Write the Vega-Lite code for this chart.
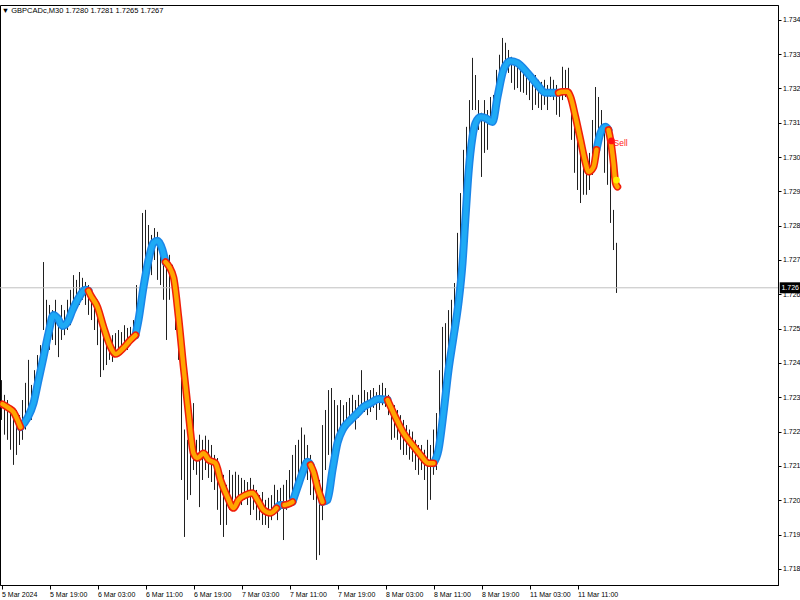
{
  "$schema": "https://vega.github.io/schema/vega-lite/v6.json",
  "width": 778,
  "height": 580,
  "autosize": {"type": "none"},
  "padding": {"left": 0, "top": 5, "right": 22, "bottom": 15},
  "background": "#ffffff",
  "title": {"text": "▼ GBPCADc,M30  1.7280 1.7281 1.7265 1.7267", "anchor": "start", "orient": "top", "offset": -9, "font": "Liberation Sans", "fontSize": 7.5, "fontWeight": "normal", "color": "#000000", "dx": 3},
  "config": {
    "view": {"stroke": "#000000", "strokeWidth": 1},
    "axis": {"labelFont": "Liberation Sans", "labelFontSize": 7, "labelColor": "#000000", "tickColor": "#000000", "domainColor": "#000000", "grid": false, "labelOverlap": false, "labelFlush": false, "labelBound": false},
    "axisY": {"tickCount": 17}
  },
  "datasets": {
    "bars": [
      {"i":0,"h":1.72350,"l":1.72234},{"i":1,"h":1.72307,"l":1.72191},{"i":2,"h":1.72292,"l":1.72176},{"i":3,"h":1.72277,"l":1.72147},
      {"i":4,"h":1.72248,"l":1.72103},{"i":5,"h":1.72263,"l":1.72132},{"i":6,"h":1.72248,"l":1.72161},{"i":7,"h":1.72292,"l":1.72176},
      {"i":8,"h":1.72342,"l":1.72206},{"i":9,"h":1.72409,"l":1.72263},{"i":10,"h":1.72336,"l":1.72234},{"i":11,"h":1.72379,"l":1.72277},
      {"i":12,"h":1.72423,"l":1.72307},{"i":13,"h":1.72452,"l":1.72336},{"i":14,"h":1.72694,"l":1.72496},{"i":15,"h":1.72584,"l":1.72452},
      {"i":16,"h":1.72569,"l":1.72438},{"i":17,"h":1.72554,"l":1.72467},{"i":18,"h":1.72584,"l":1.72452},{"i":19,"h":1.72540,"l":1.72417},
      {"i":20,"h":1.72569,"l":1.72467},{"i":21,"h":1.72554,"l":1.72481},{"i":22,"h":1.72584,"l":1.72496},{"i":23,"h":1.72613,"l":1.72510},
      {"i":24,"h":1.72656,"l":1.72540},{"i":25,"h":1.72642,"l":1.72554},{"i":26,"h":1.72665,"l":1.72569},{"i":27,"h":1.72648,"l":1.72584},
      {"i":28,"h":1.72636,"l":1.72569},{"i":29,"h":1.72627,"l":1.72540},{"i":30,"h":1.72613,"l":1.72525},{"i":31,"h":1.72598,"l":1.72496},
      {"i":32,"h":1.72584,"l":1.72452},{"i":33,"h":1.72540,"l":1.72359},{"i":34,"h":1.72496,"l":1.72379},{"i":35,"h":1.72481,"l":1.72394},
      {"i":36,"h":1.72467,"l":1.72409},{"i":37,"h":1.72481,"l":1.72403},{"i":38,"h":1.72487,"l":1.72423},{"i":39,"h":1.72496,"l":1.72432},
      {"i":40,"h":1.72490,"l":1.72438},{"i":41,"h":1.72510,"l":1.72452},{"i":42,"h":1.72502,"l":1.72438},{"i":43,"h":1.72505,"l":1.72452},
      {"i":44,"h":1.72525,"l":1.72481},{"i":45,"h":1.72627,"l":1.72496},{"i":46,"h":1.72613,"l":1.72525},{"i":47,"h":1.72837,"l":1.72584},
      {"i":48,"h":1.72846,"l":1.72633},{"i":49,"h":1.72802,"l":1.72686},{"i":50,"h":1.72773,"l":1.72656},{"i":51,"h":1.72793,"l":1.72700},
      {"i":52,"h":1.72782,"l":1.72642},{"i":53,"h":1.72744,"l":1.72627},{"i":54,"h":1.72729,"l":1.72584},{"i":55,"h":1.72706,"l":1.72467},
      {"i":56,"h":1.72715,"l":1.72584},{"i":57,"h":1.72686,"l":1.72613},{"i":58,"h":1.72613,"l":1.72496},{"i":59,"h":1.72584,"l":1.72409},
      {"i":60,"h":1.72496,"l":1.72059},{"i":61,"h":1.72206,"l":1.71893},{"i":62,"h":1.72176,"l":1.72001},{"i":63,"h":1.72191,"l":1.72015},
      {"i":64,"h":1.72283,"l":1.72088},{"i":65,"h":1.72176,"l":1.72074},{"i":66,"h":1.72191,"l":1.71980},{"i":67,"h":1.72176,"l":1.72059},
      {"i":68,"h":1.72188,"l":1.72088},{"i":69,"h":1.72176,"l":1.72065},{"i":70,"h":1.72161,"l":1.72053},{"i":71,"h":1.72132,"l":1.72030},
      {"i":72,"h":1.72123,"l":1.71972},{"i":73,"h":1.72088,"l":1.71928},{"i":74,"h":1.72074,"l":1.71893},{"i":75,"h":1.72045,"l":1.71928},
      {"i":76,"h":1.72088,"l":1.71972},{"i":77,"h":1.72074,"l":1.72001},{"i":78,"h":1.72083,"l":1.72001},{"i":79,"h":1.72074,"l":1.71986},
      {"i":80,"h":1.72065,"l":1.71986},{"i":81,"h":1.72059,"l":1.72001},{"i":82,"h":1.72053,"l":1.71986},{"i":83,"h":1.72065,"l":1.71957},
      {"i":84,"h":1.72045,"l":1.71972},{"i":85,"h":1.72030,"l":1.71942},{"i":86,"h":1.72015,"l":1.71942},{"i":87,"h":1.72024,"l":1.71928},
      {"i":88,"h":1.72001,"l":1.71928},{"i":89,"h":1.72007,"l":1.71919},{"i":90,"h":1.72015,"l":1.71942},{"i":91,"h":1.72045,"l":1.71957},
      {"i":92,"h":1.72030,"l":1.71942},{"i":93,"h":1.72036,"l":1.71972},{"i":94,"h":1.72045,"l":1.71884},{"i":95,"h":1.72059,"l":1.71972},
      {"i":96,"h":1.72088,"l":1.72001},{"i":97,"h":1.72132,"l":1.72015},{"i":98,"h":1.72161,"l":1.72030},{"i":99,"h":1.72176,"l":1.72059},
      {"i":100,"h":1.72212,"l":1.72074},{"i":101,"h":1.72191,"l":1.72088},{"i":102,"h":1.72161,"l":1.72059},{"i":103,"h":1.72132,"l":1.72015},
      {"i":104,"h":1.72088,"l":1.72001},{"i":105,"h":1.72050,"l":1.71826},{"i":106,"h":1.72059,"l":1.71840},{"i":107,"h":1.72219,"l":1.71942},
      {"i":108,"h":1.72263,"l":1.72088},{"i":109,"h":1.72321,"l":1.72132},{"i":110,"h":1.72327,"l":1.72118},{"i":111,"h":1.72292,"l":1.72161},
      {"i":112,"h":1.72277,"l":1.72176},{"i":113,"h":1.72292,"l":1.72191},{"i":114,"h":1.72277,"l":1.72206},{"i":115,"h":1.72286,"l":1.72212},
      {"i":116,"h":1.72298,"l":1.72219},{"i":117,"h":1.72307,"l":1.72234},{"i":118,"h":1.72292,"l":1.72206},{"i":119,"h":1.72307,"l":1.72240},
      {"i":120,"h":1.72379,"l":1.72263},{"i":121,"h":1.72321,"l":1.72257},{"i":122,"h":1.72315,"l":1.72248},{"i":123,"h":1.72321,"l":1.72257},
      {"i":124,"h":1.72327,"l":1.72269},{"i":125,"h":1.72315,"l":1.72234},{"i":126,"h":1.72336,"l":1.72263},{"i":127,"h":1.72342,"l":1.72277},
      {"i":128,"h":1.72327,"l":1.72272},{"i":129,"h":1.72307,"l":1.72248},{"i":130,"h":1.72283,"l":1.72176},{"i":131,"h":1.72277,"l":1.72182},
      {"i":132,"h":1.72263,"l":1.72176},{"i":133,"h":1.72248,"l":1.72147},{"i":134,"h":1.72234,"l":1.72132},{"i":135,"h":1.72219,"l":1.72132},
      {"i":136,"h":1.72206,"l":1.72118},{"i":137,"h":1.72200,"l":1.72112},{"i":138,"h":1.72176,"l":1.72088},{"i":139,"h":1.72161,"l":1.72074},
      {"i":140,"h":1.72161,"l":1.72088},{"i":141,"h":1.72147,"l":1.72059},{"i":142,"h":1.72176,"l":1.71972},{"i":143,"h":1.72161,"l":1.72001},
      {"i":144,"h":1.72206,"l":1.72074},{"i":145,"h":1.72254,"l":1.72088},{"i":146,"h":1.72379,"l":1.72176},{"i":147,"h":1.72505,"l":1.72263},
      {"i":148,"h":1.72516,"l":1.72321},{"i":149,"h":1.72554,"l":1.72365},{"i":150,"h":1.72584,"l":1.72379},{"i":151,"h":1.72633,"l":1.72467},
      {"i":152,"h":1.72779,"l":1.72525},{"i":153,"h":1.72895,"l":1.72613},{"i":154,"h":1.73021,"l":1.72758},{"i":155,"h":1.73088,"l":1.72904},
      {"i":156,"h":1.73166,"l":1.73041},{"i":157,"h":1.73289,"l":1.73137},{"i":158,"h":1.73239,"l":1.73137},{"i":159,"h":1.73166,"l":1.73079},
      {"i":160,"h":1.73129,"l":1.72942},{"i":161,"h":1.73166,"l":1.73012},{"i":162,"h":1.73137,"l":1.73021},{"i":163,"h":1.73175,"l":1.73099},
      {"i":164,"h":1.73181,"l":1.73094},{"i":165,"h":1.73254,"l":1.73166},{"i":166,"h":1.73298,"l":1.73175},{"i":167,"h":1.73347,"l":1.73254},
      {"i":168,"h":1.73333,"l":1.73274},{"i":169,"h":1.73312,"l":1.73245},{"i":170,"h":1.73292,"l":1.73216},{"i":171,"h":1.73283,"l":1.73196},
      {"i":172,"h":1.73277,"l":1.73201},{"i":173,"h":1.73269,"l":1.73190},{"i":174,"h":1.73245,"l":1.73187},{"i":175,"h":1.73254,"l":1.73181},
      {"i":176,"h":1.73239,"l":1.73166},{"i":177,"h":1.73231,"l":1.73137},{"i":178,"h":1.73239,"l":1.73152},{"i":179,"h":1.73225,"l":1.73143},
      {"i":180,"h":1.73219,"l":1.73137},{"i":181,"h":1.73225,"l":1.73152},{"i":182,"h":1.73210,"l":1.73137},{"i":183,"h":1.73234,"l":1.73175},
      {"i":184,"h":1.73225,"l":1.73166},{"i":185,"h":1.73210,"l":1.73123},{"i":186,"h":1.73196,"l":1.73117},{"i":187,"h":1.73263,"l":1.73166},
      {"i":188,"h":1.73254,"l":1.73175},{"i":189,"h":1.73260,"l":1.73166},{"i":190,"h":1.73166,"l":1.73050},{"i":191,"h":1.73094,"l":1.72954},
      {"i":192,"h":1.73064,"l":1.72904},{"i":193,"h":1.73050,"l":1.72866},{"i":194,"h":1.73021,"l":1.72890},{"i":195,"h":1.73006,"l":1.72890},
      {"i":196,"h":1.73012,"l":1.72904},{"i":197,"h":1.73108,"l":1.72948},{"i":198,"h":1.73204,"l":1.72983},{"i":199,"h":1.73175,"l":1.73030},
      {"i":200,"h":1.73137,"l":1.73050},{"i":201,"h":1.73099,"l":1.72954},{"i":202,"h":1.73079,"l":1.72919},{"i":203,"h":1.73050,"l":1.72808},
      {"i":204,"h":1.72846,"l":1.72729},{"i":205,"h":1.72750,"l":1.72604}
    ],
    "ma": [
      {"i":0.33,"v":1.72280,"s":1,"t":"d"},{"i":2.33,"v":1.72269,"s":1,"t":"d"},{"i":4,"v":1.72257,"s":1,"t":"d"},{"i":5.33,"v":1.72234,"s":1,"t":"d"},{"i":6.33,"v":1.72213,"s":1,"t":"d"},
      {"i":6.33,"v":1.72213,"s":2,"t":"u"},{"i":8.67,"v":1.72240,"s":2,"t":"u"},{"i":10.67,"v":1.72283,"s":2,"t":"u"},{"i":12.33,"v":1.72350,"s":2,"t":"u"},{"i":14,"v":1.72417,"s":2,"t":"u"},{"i":15.67,"v":1.72487,"s":2,"t":"u"},{"i":17.33,"v":1.72540,"s":2,"t":"u"},{"i":18.67,"v":1.72531,"s":2,"t":"u"},{"i":20.33,"v":1.72508,"s":2,"t":"u"},{"i":22,"v":1.72519,"s":2,"t":"u"},{"i":23.67,"v":1.72554,"s":2,"t":"u"},{"i":25.67,"v":1.72589,"s":2,"t":"u"},{"i":28,"v":1.72613,"s":2,"t":"u"},{"i":29,"v":1.72610,"s":2,"t":"u"},
      {"i":29,"v":1.72610,"s":3,"t":"d"},{"i":29.67,"v":1.72598,"s":3,"t":"d"},{"i":32,"v":1.72563,"s":3,"t":"d"},{"i":34,"v":1.72505,"s":3,"t":"d"},{"i":36.33,"v":1.72447,"s":3,"t":"d"},{"i":38,"v":1.72426,"s":3,"t":"d"},{"i":40.67,"v":1.72444,"s":3,"t":"d"},{"i":43,"v":1.72467,"s":3,"t":"d"},{"i":44.67,"v":1.72481,"s":3,"t":"d"},
      {"i":44.67,"v":1.72481,"s":4,"t":"u"},{"i":45.67,"v":1.72525,"s":4,"t":"u"},{"i":47.33,"v":1.72621,"s":4,"t":"u"},{"i":49,"v":1.72700,"s":4,"t":"u"},{"i":50.67,"v":1.72750,"s":4,"t":"u"},{"i":52,"v":1.72756,"s":4,"t":"u"},{"i":53.67,"v":1.72729,"s":4,"t":"u"},{"i":54.67,"v":1.72694,"s":4,"t":"u"},
      {"i":54.67,"v":1.72694,"s":5,"t":"d"},{"i":57.33,"v":1.72650,"s":5,"t":"d"},{"i":59,"v":1.72534,"s":5,"t":"d"},{"i":60.67,"v":1.72388,"s":5,"t":"d"},{"i":62.33,"v":1.72254,"s":5,"t":"d"},{"i":64,"v":1.72137,"s":5,"t":"d"},{"i":65.33,"v":1.72123,"s":5,"t":"d"},{"i":67.33,"v":1.72137,"s":5,"t":"d"},{"i":69,"v":1.72118,"s":5,"t":"d"},{"i":71.33,"v":1.72108,"s":5,"t":"d"},{"i":73,"v":1.72059,"s":5,"t":"d"},{"i":75.33,"v":1.72009,"s":5,"t":"d"},{"i":77.33,"v":1.71977,"s":5,"t":"d"},{"i":79,"v":1.72001,"s":5,"t":"d"},{"i":81.33,"v":1.72015,"s":5,"t":"d"},{"i":83.67,"v":1.72021,"s":5,"t":"d"},{"i":85.33,"v":1.72001,"s":5,"t":"d"},{"i":87.33,"v":1.71972,"s":5,"t":"d"},{"i":89.67,"v":1.71963,"s":5,"t":"d"},{"i":91.67,"v":1.71977,"s":5,"t":"d"},
      {"i":91.67,"v":1.71977,"s":6,"t":"u"},{"i":93,"v":1.71986,"s":6,"t":"u"},{"i":94.33,"v":1.71986,"s":6,"t":"u"},
      {"i":94.33,"v":1.71986,"s":7,"t":"d"},{"i":95.67,"v":1.71989,"s":7,"t":"d"},{"i":97,"v":1.71995,"s":7,"t":"d"},
      {"i":97,"v":1.71995,"s":8,"t":"u"},{"i":98.67,"v":1.72038,"s":8,"t":"u"},{"i":100.33,"v":1.72080,"s":8,"t":"u"},{"i":102,"v":1.72112,"s":8,"t":"u"},{"i":103,"v":1.72103,"s":8,"t":"u"},
      {"i":103,"v":1.72103,"s":9,"t":"d"},{"i":104,"v":1.72083,"s":9,"t":"d"},{"i":105.33,"v":1.72038,"s":9,"t":"d"},{"i":107,"v":1.71995,"s":9,"t":"d"},
      {"i":107,"v":1.71995,"s":10,"t":"u"},{"i":108.67,"v":1.72001,"s":10,"t":"u"},{"i":110.33,"v":1.72088,"s":10,"t":"u"},{"i":112,"v":1.72167,"s":10,"t":"u"},{"i":114,"v":1.72210,"s":10,"t":"u"},{"i":116.33,"v":1.72234,"s":10,"t":"u"},{"i":118.67,"v":1.72254,"s":10,"t":"u"},{"i":120.67,"v":1.72272,"s":10,"t":"u"},{"i":123,"v":1.72283,"s":10,"t":"u"},{"i":125.67,"v":1.72295,"s":10,"t":"u"},{"i":128.67,"v":1.72292,"s":10,"t":"u"},
      {"i":128.67,"v":1.72292,"s":11,"t":"d"},{"i":131.33,"v":1.72242,"s":11,"t":"d"},{"i":134,"v":1.72196,"s":11,"t":"d"},{"i":137,"v":1.72161,"s":11,"t":"d"},{"i":139.67,"v":1.72132,"s":11,"t":"d"},{"i":142.33,"v":1.72108,"s":11,"t":"d"},{"i":144,"v":1.72108,"s":11,"t":"d"},
      {"i":144,"v":1.72108,"s":12,"t":"u"},{"i":145.67,"v":1.72147,"s":12,"t":"u"},{"i":147.33,"v":1.72254,"s":12,"t":"u"},{"i":149,"v":1.72379,"s":12,"t":"u"},{"i":150.67,"v":1.72476,"s":12,"t":"u"},{"i":152.33,"v":1.72575,"s":12,"t":"u"},{"i":153.67,"v":1.72691,"s":12,"t":"u"},{"i":154.67,"v":1.72825,"s":12,"t":"u"},{"i":155.67,"v":1.72954,"s":12,"t":"u"},{"i":157,"v":1.73059,"s":12,"t":"u"},{"i":158,"v":1.73099,"s":12,"t":"u"},{"i":159.67,"v":1.73117,"s":12,"t":"u"},{"i":161.33,"v":1.73114,"s":12,"t":"u"},{"i":163.67,"v":1.73102,"s":12,"t":"u"},{"i":165.33,"v":1.73175,"s":12,"t":"u"},{"i":167.33,"v":1.73254,"s":12,"t":"u"},{"i":169.67,"v":1.73280,"s":12,"t":"u"},{"i":172,"v":1.73274,"s":12,"t":"u"},{"i":175.33,"v":1.73245,"s":12,"t":"u"},{"i":178.67,"v":1.73210,"s":12,"t":"u"},{"i":181.33,"v":1.73187,"s":12,"t":"u"},{"i":184,"v":1.73187,"s":12,"t":"u"},{"i":185.67,"v":1.73187,"s":12,"t":"u"},
      {"i":185.67,"v":1.73187,"s":13,"t":"d"},{"i":187,"v":1.73190,"s":13,"t":"d"},{"i":188.67,"v":1.73190,"s":13,"t":"d"},{"i":189.67,"v":1.73175,"s":13,"t":"d"},{"i":191.33,"v":1.73117,"s":13,"t":"d"},{"i":193,"v":1.73050,"s":13,"t":"d"},{"i":194.67,"v":1.72983,"s":13,"t":"d"},{"i":195.67,"v":1.72957,"s":13,"t":"d"},{"i":197.33,"v":1.72971,"s":13,"t":"d"},{"i":198.33,"v":1.73021,"s":13,"t":"d"},
      {"i":198.33,"v":1.73021,"s":14,"t":"u"},{"i":199.67,"v":1.73070,"s":14,"t":"u"},{"i":201.33,"v":1.73088,"s":14,"t":"u"},{"i":202.33,"v":1.73079,"s":14,"t":"u"},
      {"i":202.33,"v":1.73079,"s":15,"t":"d"},{"i":203,"v":1.73050,"s":15,"t":"d"},{"i":204,"v":1.72983,"s":15,"t":"d"},{"i":204.67,"v":1.72925,"s":15,"t":"d"},{"i":205.33,"v":1.72913,"s":15,"t":"d"}
    ],
    "sig": [
      {"i":203.33,"v":1.73047,"kind":"sell"},
      {"i":205,"v":1.72933,"kind":"exit"}
    ],
    "last": [
      {"price":1.72619,"lab":"1.726","boxTop":1.72635,"boxBottom":1.72603,"left":259.4,"right":266.5,"mid":262.9}
    ]
  },
  "layer": [
    {
      "data": {"name": "bars"},
      "mark": {"type": "rule", "color": "#202020", "strokeWidth": 1},
      "encoding": {
        "x": {"field": "i", "type": "quantitative", "title": null,
          "scale": {"domain": [-0.5, 258.83], "nice": false, "zero": false},
          "axis": {"orient": "bottom", "title": null, "values": [0,16,32,48,64,80,96,112,128,144,160,176,192],
            "labelExpr": "['5 Mar 2024','5 Mar 19:00','6 Mar 03:00','6 Mar 11:00','6 Mar 19:00','7 Mar 03:00','7 Mar 11:00','7 Mar 19:00','8 Mar 03:00','8 Mar 11:00','8 Mar 19:00','11 Mar 03:00','11 Mar 11:00'][round(datum.value/16)]",
            "labelAlign": "left", "labelBaseline": "top", "labelPadding": 1, "tickSize": 4}},
        "y": {"field": "h", "type": "quantitative", "title": null,
          "scale": {"domain": [1.71753, 1.73443], "nice": false, "zero": false},
          "axis": {"orient": "right", "title": null, "values": [1.718,1.719,1.72,1.721,1.722,1.723,1.724,1.725,1.726,1.727,1.728,1.729,1.73,1.731,1.732,1.733,1.734],
            "format": ".3f", "tickSize": 3, "labelPadding": 1.5, "labelBaseline": "middle"}},
        "y2": {"field": "l"}
      }
    },
    {
      "data": {"name": "last"},
      "mark": {"type": "rule", "color": "#c0c0c0", "strokeWidth": 1},
      "encoding": {"y": {"field": "price", "type": "quantitative", "title": null}}
    },
    {
      "data": {"name": "ma"},
      "transform": [{"filter": "datum.t === 'u'"}],
      "mark": {"type": "line", "color": "#1A86E8", "strokeWidth": 8, "strokeCap": "round", "strokeJoin": "round", "interpolate": "monotone"},
      "encoding": {
        "x": {"field": "i", "type": "quantitative", "title": null},
        "y": {"field": "v", "type": "quantitative", "title": null},
        "detail": {"field": "s"},
        "order": {"field": "i"}
      }
    },
    {
      "data": {"name": "ma"},
      "transform": [{"filter": "datum.t === 'u'"}],
      "mark": {"type": "line", "color": "#1EAAF5", "strokeWidth": 5, "strokeCap": "round", "strokeJoin": "round", "interpolate": "monotone"},
      "encoding": {
        "x": {"field": "i", "type": "quantitative", "title": null},
        "y": {"field": "v", "type": "quantitative", "title": null},
        "detail": {"field": "s"},
        "order": {"field": "i"}
      }
    },
    {
      "data": {"name": "ma"},
      "transform": [{"filter": "datum.t === 'd'"}],
      "mark": {"type": "line", "color": "#F01E0A", "strokeWidth": 7.5, "strokeCap": "round", "strokeJoin": "round", "interpolate": "monotone"},
      "encoding": {
        "x": {"field": "i", "type": "quantitative", "title": null},
        "y": {"field": "v", "type": "quantitative", "title": null},
        "detail": {"field": "s"},
        "order": {"field": "i"}
      }
    },
    {
      "data": {"name": "ma"},
      "transform": [{"filter": "datum.t === 'd'"}],
      "mark": {"type": "line", "color": "#FFA500", "strokeWidth": 4.5, "strokeCap": "round", "strokeJoin": "round", "interpolate": "monotone"},
      "encoding": {
        "x": {"field": "i", "type": "quantitative", "title": null},
        "y": {"field": "v", "type": "quantitative", "title": null},
        "detail": {"field": "s"},
        "order": {"field": "i"}
      }
    },
    {
      "data": {"name": "sig"},
      "mark": {"type": "circle", "size": 45, "opacity": 1},
      "encoding": {
        "x": {"field": "i", "type": "quantitative", "title": null},
        "y": {"field": "v", "type": "quantitative", "title": null},
        "color": {"field": "kind", "type": "nominal", "scale": {"domain": ["sell","exit"], "range": ["#FF1010","#FFF000"]}, "legend": null}
      }
    },
    {
      "data": {"name": "sig"},
      "transform": [{"filter": "datum.kind === 'sell'"}],
      "mark": {"type": "text", "text": "Sell", "align": "left", "baseline": "middle", "dx": 2, "dy": 2, "font": "Liberation Sans", "fontSize": 8.5, "color": "#FF2020"},
      "encoding": {
        "x": {"field": "i", "type": "quantitative", "title": null},
        "y": {"field": "v", "type": "quantitative", "title": null}
      }
    },
    {
      "data": {"name": "last"},
      "mark": {"type": "rect", "color": "#000000", "clip": false},
      "encoding": {
        "x": {"field": "left", "type": "quantitative", "title": null},
        "x2": {"field": "right"},
        "y": {"field": "boxTop", "type": "quantitative", "title": null},
        "y2": {"field": "boxBottom"}
      }
    },
    {
      "data": {"name": "last"},
      "mark": {"type": "text", "align": "center", "baseline": "middle", "font": "Liberation Sans", "fontSize": 7, "color": "#ffffff", "clip": false},
      "encoding": {
        "x": {"field": "mid", "type": "quantitative", "title": null},
        "y": {"field": "price", "type": "quantitative", "title": null},
        "text": {"field": "lab"}
      }
    }
  ]
}
